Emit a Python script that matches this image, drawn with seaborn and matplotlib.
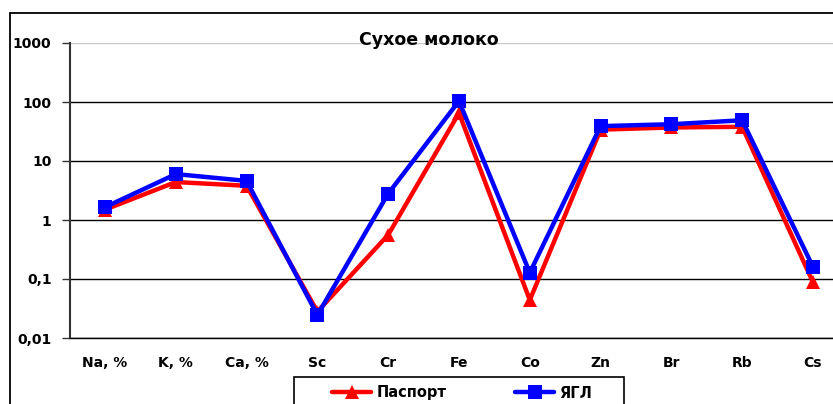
import matplotlib
matplotlib.use("Agg")
import matplotlib.pyplot as plt
from matplotlib.lines import Line2D
from matplotlib.patches import Rectangle
from matplotlib.ticker import FixedLocator, NullLocator
import seaborn as sns
import pandas as pd

elements = ["Na, %", "K, %", "Ca, %", "Sc", "Cr", "Fe", "Co", "Zn", "Br", "Rb", "Cs"]
passport = [1.5, 4.4, 3.8, 0.028, 0.56, 65, 0.044, 34, 37, 38, 0.088]
ygl = [1.65, 6.0, 4.6, 0.0245, 2.8, 104, 0.128, 39, 42, 49, 0.16]
series_names = ["Паспорт", "ЯГЛ"]
ytick_vals = [0.01, 0.1, 1, 10, 100, 1000]
ytick_labels = ["0,01", "0,1", "1", "10", "100", "1000"]
title = "Сухое молоко"

df = pd.DataFrame({
    "element": elements * 2,
    "value": passport + ygl,
    "source": [series_names[0]] * len(elements) + [series_names[1]] * len(elements),
})

sns.set_theme(style="white")
plt.rcParams["font.family"] = ["DejaVu Sans"]
plt.rcParams["font.weight"] = "bold"
plt.rcParams["text.color"] = "black"
plt.rcParams["axes.labelcolor"] = "black"
plt.rcParams["xtick.color"] = "black"
plt.rcParams["ytick.color"] = "black"

W, H = 833, 404
fig = plt.figure(figsize=(W / 100, H / 100), dpi=100)
ax = fig.add_axes([69.6 / W, (H - 338) / H, 778.8 / W, 295 / H])

colors = {series_names[0]: "#ff0000", series_names[1]: "#0000ff"}
markers = {series_names[0]: "^", series_names[1]: "s"}
msize = {series_names[0]: 10.5, series_names[1]: 9.5}

sns.lineplot(data=df, x="element", y="value", hue="source", style="source",
             hue_order=series_names, style_order=series_names,
             palette=colors, markers=markers, dashes=False, sort=False,
             linewidth=3.2, markersize=9.5, markeredgewidth=0, legend=False, ax=ax)
for line in ax.get_lines():
    if line.get_marker() == "^":
        line.set_markersize(msize[series_names[0]])

ax.set_yscale("log")
ax.set_ylim(0.01, 1000)
ax.set_xlim(-0.5, len(elements) - 0.5)
ax.yaxis.set_major_locator(FixedLocator(ytick_vals))
ax.yaxis.set_minor_locator(NullLocator())
ax.set_yticklabels(ytick_labels)
ax.set_xticks(range(len(elements)))
ax.set_xticklabels(elements)
ax.set_xticks([i - 0.5 for i in range(len(elements) + 1)], minor=True)
ax.tick_params(axis="x", which="major", length=0, pad=13, labelsize=10)
ax.tick_params(axis="x", which="minor", length=5, width=1, color="#333333", direction="out")
ax.tick_params(axis="y", which="major", length=6, width=1, color="#333333", direction="out",
               pad=7, labelsize=10, left=True)
for lab in ax.get_xticklabels() + ax.get_yticklabels():
    lab.set_fontweight("bold")
    lab.set_color("black")
ax.set_xlabel("")
ax.set_ylabel("")

ax.yaxis.grid(True, color="black", linewidth=1.0)
ax.set_axisbelow(True)
ax.get_ygridlines()[-1].set_color("#c8c8c8")
for side in ["top", "right"]:
    ax.spines[side].set_visible(False)
ax.spines["left"].set_color("#333333")
ax.spines["left"].set_linewidth(1.5)
ax.spines["bottom"].set_color("black")
ax.spines["bottom"].set_linewidth(1.0)
ax.patch.set_alpha(0)

fig.text(429 / W, 1 - 40 / H, title, ha="center", va="center", fontsize=12.5,
         fontweight="bold", color="black")

# outer chart border (cropped on right/bottom)
fig.patches.append(Rectangle((10 / W, -0.2), 1.5, (H - 13) / H + 0.2, transform=fig.transFigure,
                             fill=False, edgecolor="black", linewidth=1.3))
# legend box (cropped at bottom)
fig.patches.append(Rectangle((294 / W, -0.1), (624 - 294) / W, (H - 377) / H + 0.1,
                             transform=fig.transFigure, fill=True, facecolor="white",
                             edgecolor="black", linewidth=1.2, zorder=5))
handles = [Line2D([], [], color=colors[n], marker=markers[n], lw=3.2, markersize=msize[n],
                  markeredgewidth=0) for n in series_names]
leg = fig.legend(handles, series_names, loc="center left",
                 bbox_to_anchor=(332 / W, 1 - 393 / H), frameon=False, ncol=2,
                 handlelength=2.7, handletextpad=0.35, columnspacing=4.7,
                 borderpad=0, borderaxespad=0, prop={"weight": "bold", "size": 10.5})
leg.set_zorder(6)
for t in leg.get_texts():
    t.set_color("black")

fig.savefig("out.png", dpi=100)
